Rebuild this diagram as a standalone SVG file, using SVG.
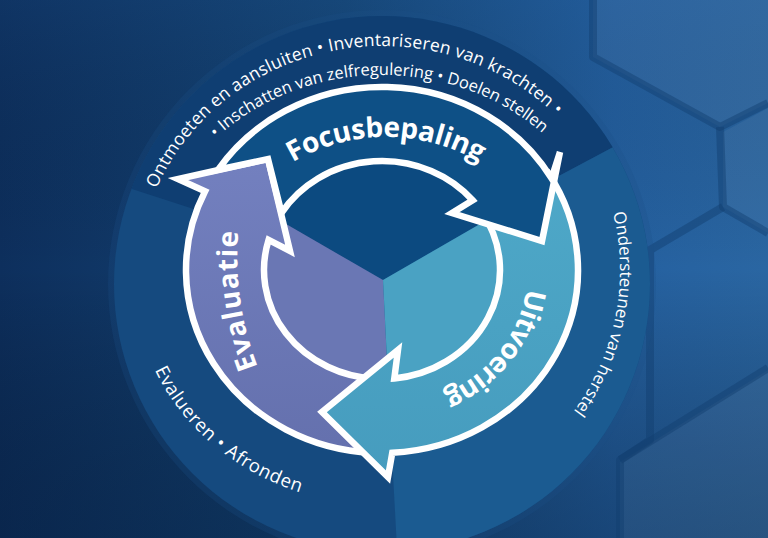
<svg xmlns="http://www.w3.org/2000/svg" width="768" height="538" viewBox="0 0 768 538">
<defs>
  <linearGradient id="bg" x1="0" y1="0" x2="768" y2="0" gradientUnits="userSpaceOnUse">
    <stop offset="0" stop-color="#0d2f5d"/>
    <stop offset="0.45" stop-color="#154677"/>
    <stop offset="0.8" stop-color="#2460a0"/>
    <stop offset="1" stop-color="#2a66a2"/>
  </linearGradient>
  <linearGradient id="vshade" x1="0" y1="0" x2="0" y2="538" gradientUnits="userSpaceOnUse">
    <stop offset="0" stop-color="#1a4a80" stop-opacity="0.2"/>
    <stop offset="0.5" stop-color="#000000" stop-opacity="0"/>
    <stop offset="1" stop-color="#031630" stop-opacity="0.35"/>
  </linearGradient>
  <linearGradient id="gEval" x1="0" y1="160" x2="0" y2="460" gradientUnits="userSpaceOnUse">
    <stop offset="0" stop-color="#7380bf"/>
    <stop offset="1" stop-color="#6470ad"/>
  </linearGradient>
  <linearGradient id="gUit" x1="0" y1="170" x2="0" y2="480" gradientUnits="userSpaceOnUse">
    <stop offset="0" stop-color="#4ea8c8"/>
    <stop offset="1" stop-color="#469cbe"/>
  </linearGradient>
  <clipPath id="disc"><circle cx="382" cy="284" r="268"/></clipPath>
  <clipPath id="inner"><ellipse cx="382" cy="270" rx="118" ry="109"/></clipPath>
  <path id="p-line1" d="M156.48,188.57 A245,234 0 0 1 564.07,123.42"/>
  <path id="p-line2" d="M216,138.11 A230,205 0 0 1 558.19,148.23"/>
  <path id="p-right" d="M613.03,212.83 A238,238 0 0 1 550.29,438.29"/>
  <path id="p-left" d="M154.74,370.08 A248,225 0 0 0 338.93,501.58"/>
  <path id="p-focus" d="M201,322 A185,185 0 0 1 571,322"/>
  <path id="p-eval" d="M260,372 A300,300 0 0 1 239,226"/>
  <path id="p-uit" d="M526.65,288.52 A146,136.5 0 0 1 419.79,401.85"/>
</defs>
<style>
  .arrow{stroke:#ffffff;stroke-width:6.5;stroke-linejoin:miter;stroke-miterlimit:10}
  .lbl{font-family:"Open Sans","Noto Sans","DejaVu Sans",sans-serif;font-weight:700;font-size:28px;fill:#ffffff}
  .rt{font-family:"Open Sans","Noto Sans","DejaVu Sans",sans-serif;font-weight:400;fill:#ffffff}
  .seam{fill:none;stroke:#123d6f;stroke-opacity:0.45;stroke-width:8;stroke-linejoin:round}
  .face{fill:#ffffff;fill-opacity:0.05}
</style>

<g id="background">
  <rect x="0" y="0" width="768" height="538" fill="url(#bg)"/>
  <rect x="0" y="0" width="768" height="538" fill="url(#vshade)"/>
  <polygon class="face" points="593,0 768,0 768,103 720,127 593,57"/>
  <polygon class="face" points="723,132 768,108 768,233 723,207"/>
  <polygon class="face" points="620,462 768,370 768,538 620,538"/>
  <polyline class="seam" points="593,0 593,57 720,127 768,103"/>
  <polyline class="seam" points="720,127 723,207 768,233"/>
  <polyline class="seam" points="723,207 650,250 650,440 620,460 620,538"/>
  <polyline class="seam" points="620,460 768,368"/>
</g>

<g id="disc-bands">
  <circle cx="382" cy="284" r="274" fill="#1a5088" fill-opacity="0.25"/>
  <circle cx="382" cy="284" r="268" fill="#154a7f"/>
  <g clip-path="url(#disc)">
    <polygon points="382,270 -189,85 -189,-300 950,-300 912,-12" fill="#0f3e72"/>
    <polygon points="382,270 912,-12 1000,-12 1000,900 416,900" fill="#1b5b91"/>
  </g>
</g>

<g id="ring-texts">
  <text class="rt" font-size="17.5"><textPath href="#p-line1" textLength="474" lengthAdjust="spacing">Ontmoeten en aansluiten • Inventariseren van krachten •</textPath></text>
  <text class="rt" font-size="16.5"><textPath href="#p-line2" textLength="356" lengthAdjust="spacing">• Inschatten van zelfregulering • Doelen stellen</textPath></text>
  <text class="rt" font-size="17"><textPath href="#p-right" textLength="209" lengthAdjust="spacing">Ondersteunen van herstel</textPath></text>
  <text class="rt" font-size="18.5"><textPath href="#p-left" textLength="195" lengthAdjust="spacing">Evalueren • Afronden</textPath></text>
</g>

<g id="pie" clip-path="url(#inner)">
  <polygon points="383,280 36.6,80 36.6,-100 729.4,-100 729.4,80" fill="#0c4a80"/>
  <polygon points="383,280 399,600 36.6,600 36.6,80" fill="#6a77b4"/>
  <polygon points="383,280 729.4,80 729.4,600 399,600" fill="#4aa2c3"/>
</g>

<g id="evaluatie">
  <path class="arrow" fill="url(#gEval)" d="M371.74,452.75 A196,183 0 0 1 205.09,191.22 L178,179 L268,159 L290,251 L268.57,239.96 A118,109 0 0 0 375.82,378.85 Z"/>
  <text class="lbl"><textPath href="#p-eval" startOffset="50%" text-anchor="middle" textLength="138" lengthAdjust="spacing">Evaluatie</textPath></text>
</g>

<g id="uitvoering">
  <path class="arrow" fill="url(#gUit)" d="M548.22,173.03 A196,183 0 0 1 392.26,452.75 L388,477 L322,412 L398,350 L394.33,378.4 A118,109 0 0 0 482.07,212.24 Z"/>
  <text class="lbl"><textPath href="#p-uit" textLength="140" lengthAdjust="spacing">Uitvoering</textPath></text>
</g>

<g id="focusbepaling">
  <path class="arrow" fill="#0e5086" d="M217.99,169.8 A196,183 0 0 1 551.56,178.22 L560,152 L542,241 L452,213 L472.66,200.23 A118,109 0 0 0 281.5,212.89 L268,159 Z"/>
  <text class="lbl"><textPath href="#p-focus" startOffset="50%" text-anchor="middle" textLength="196" lengthAdjust="spacing">Focusbepaling</textPath></text>
</g>

<g id="connectors"></g>
</svg>
